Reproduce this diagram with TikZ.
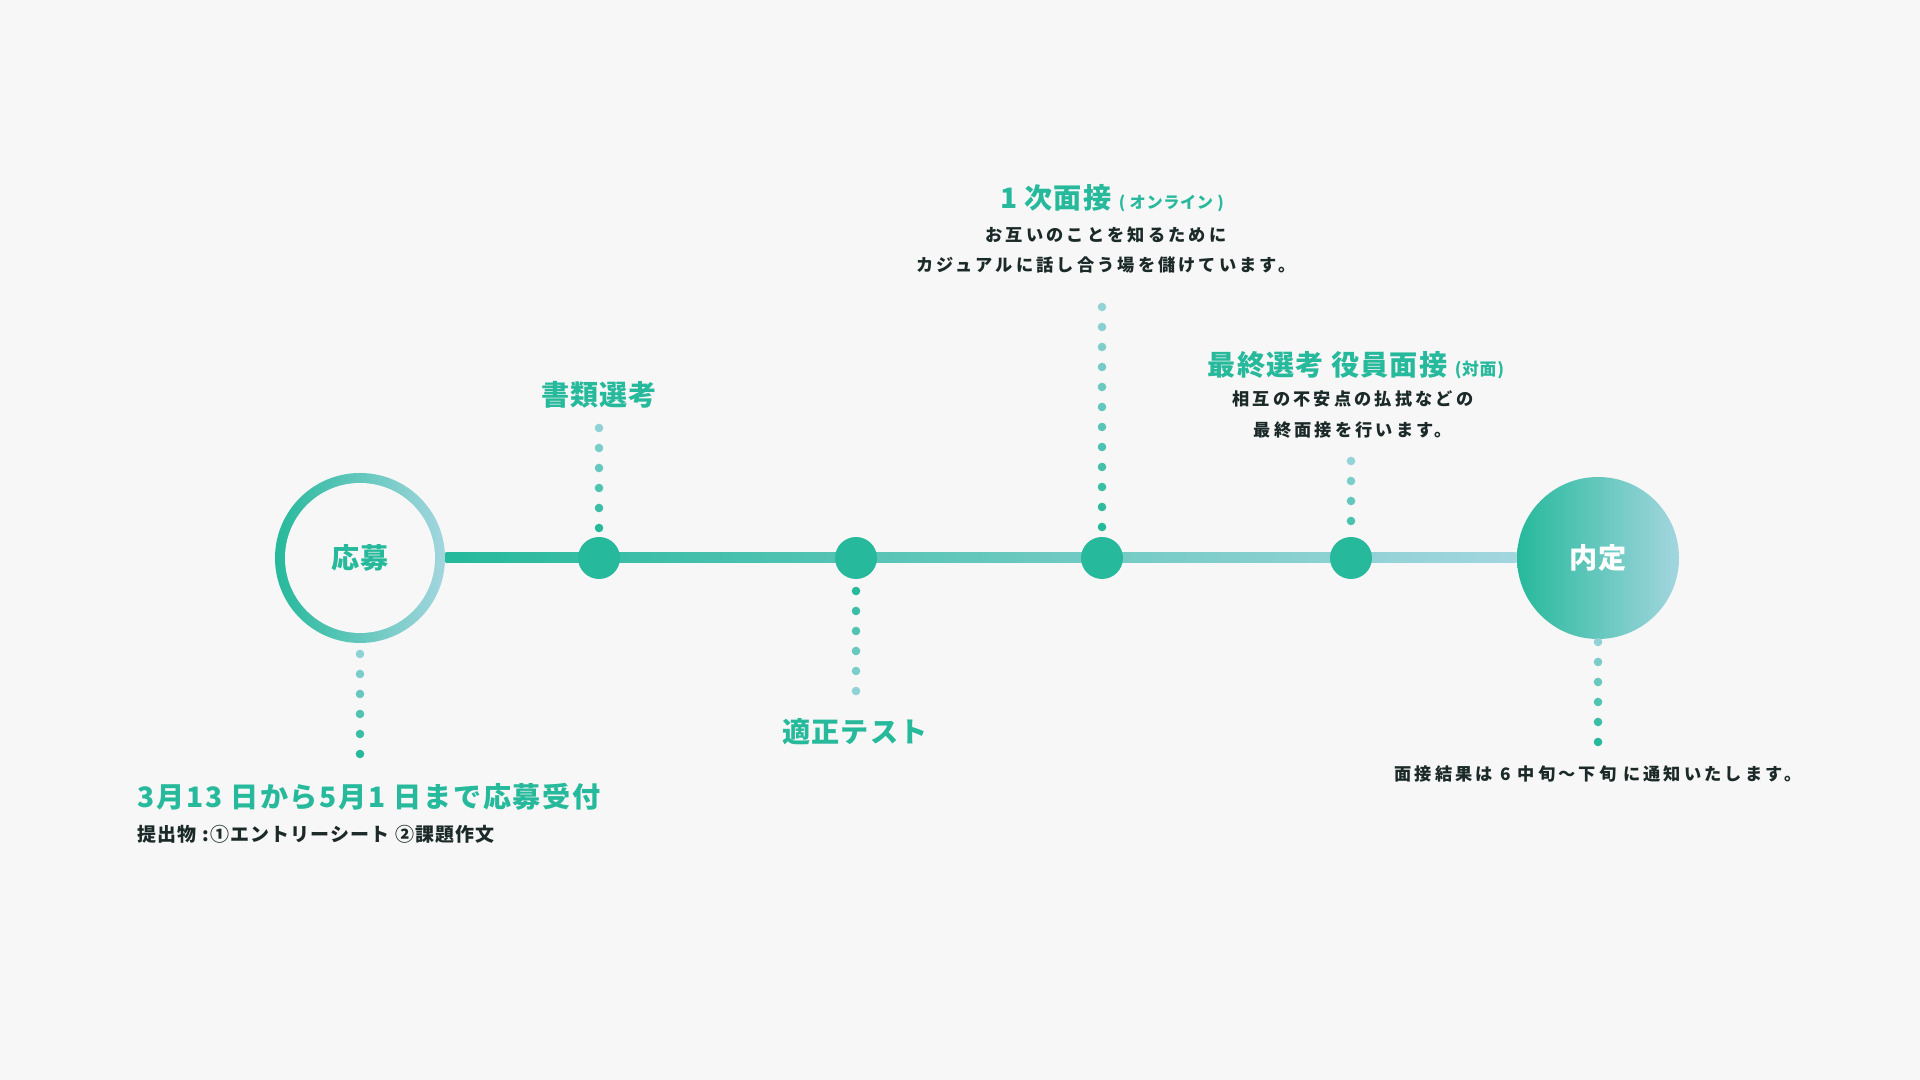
\documentclass[tikz,border=0pt]{standalone}
\usepackage{fontspec}
\setmainfont{Noto Sans CJK JP}
\newfontfamily\jphead{Noto Sans CJK JP}[LetterSpace=4]
\newfontfamily\jpsp{Noto Sans CJK JP}[LetterSpace=18]
\newfontfamily\jpsub{Noto Sans CJK JP}[LetterSpace=6]
\usetikzlibrary{calc}

\definecolor{mint}{RGB}{38,185,155}
\definecolor{mist}{RGB}{163,214,223}
\definecolor{ink}{RGB}{27,42,40}
\definecolor{paper}{RGB}{247,247,247}

\tikzset{
  stepdot/.style={circle, fill=mint, minimum size=4.2mm, inner sep=0pt},
  headline/.style={text=mint, inner sep=0pt, font=\jphead\fontsize{8}{9}\selectfont\bfseries},
  note/.style={text=ink, inner sep=0pt, align=center, font=\jpsp\fontsize{4.9}{8.6}\selectfont\bfseries},
}

\begin{document}
\begin{tikzpicture}
    \fill[paper] (0,0) rectangle (19.2,10.8);
    \useasboundingbox (0,0) rectangle (19.2,10.8);

    % 始点（応募）と終点（内定）
    \node[circle, minimum size=1.70cm, inner sep=0pt, left color=mint, right color=mist] (oubo) at (3.60,5.22) {};
    \node[circle, minimum size=1.50cm, inner sep=0pt, fill=paper, text=mint, font=\fontsize{8}{9}\selectfont\bfseries] (oubo-in) at (oubo) {応募};
    \node[circle, minimum size=1.62cm, inner sep=0pt, left color=mint, right color=mist, text=white, font=\fontsize{8}{9}\selectfont\bfseries] (naitei) at (15.98,5.22) {内定};

    % タイムライン
    \shade[left color=mint, right color=mist] ([yshift=-0.5mm]oubo.east) rectangle ([yshift=0.5mm]naitei.west);

    % 各選考ステップ
    \node[stepdot] (shorui) at (5.99,5.22) {};
    \node[stepdot] (tekisei) at (8.56,5.22) {};
    \node[stepdot] (ichiji) at (11.02,5.22) {};
    \node[stepdot] (saishu) at (13.51,5.22) {};

    % 点線（上側は下が濃い，下側は上が濃い）
    \foreach \i in {0,...,5} {
      \pgfmathtruncatemacro\p{100-17*\i}
      \fill[mint!\p!mist] ($(shorui)+(0,{0.30+0.2*\i})$) circle (0.043);
      \fill[mint!\p!mist] ($(tekisei)+(0,{-0.33-0.2*\i})$) circle (0.043);
      \fill[mint!\p!mist] ($(oubo)+(0,{-1.96+0.2*\i})$) circle (0.043);
      \fill[mint!\p!mist] ($(naitei)+(0,{-1.84+0.2*\i})$) circle (0.043);
    }
    \foreach \i in {0,...,11} {
      \pgfmathtruncatemacro\p{100-8*\i}
      \fill[mint!\p!mist] ($(ichiji)+(0,{0.31+0.2*\i})$) circle (0.043);
    }
    \foreach \i in {0,...,3} {
      \pgfmathtruncatemacro\p{70-20*\i}
      \fill[mint!\p!mist] ($(saishu)+(0,{0.37+0.2*\i})$) circle (0.043);
    }

    % ラベル
    \node[headline] (shorui-t) at (5.99,6.85) {書類選考};
    \node[headline] (tekisei-t) at (8.55,3.48) {適正テスト};
    \node[headline] (ichiji-t) at (11.12,8.82) {1 次面接 {\fontsize{4.6}{5}\selectfont ( オンライン )}};
    \node[note] (ichiji-n) at (11.06,8.30) {お互いのことを知るために\\カジュアルに話し合う場を儲けています。};
    \node[headline] (saishu-t) at (13.56,7.15) {最終選考 役員面接 {\fontsize{4.8}{5}\selectfont (対面)}};
    \node[note] (saishu-n) at (13.53,6.655) {相互の不安点の払拭などの\\最終面接を行います。};
    \node[headline, anchor=west, font=\jpsub\fontsize{8}{9}\selectfont\bfseries] (oubo-t) at (1.37,2.83) {3月13 日から5月1 日まで応募受付};
    \node[note, anchor=west, font=\jpsub\fontsize{5.4}{6}\selectfont\bfseries] (oubo-n) at (1.37,2.46) {提出物 :①エントリーシート ②課題作文};
    \node[note] (naitei-n) at (15.98,3.06) {面接結果は 6 中旬〜下旬 に通知いたします。};
\end{tikzpicture}
\end{document}
